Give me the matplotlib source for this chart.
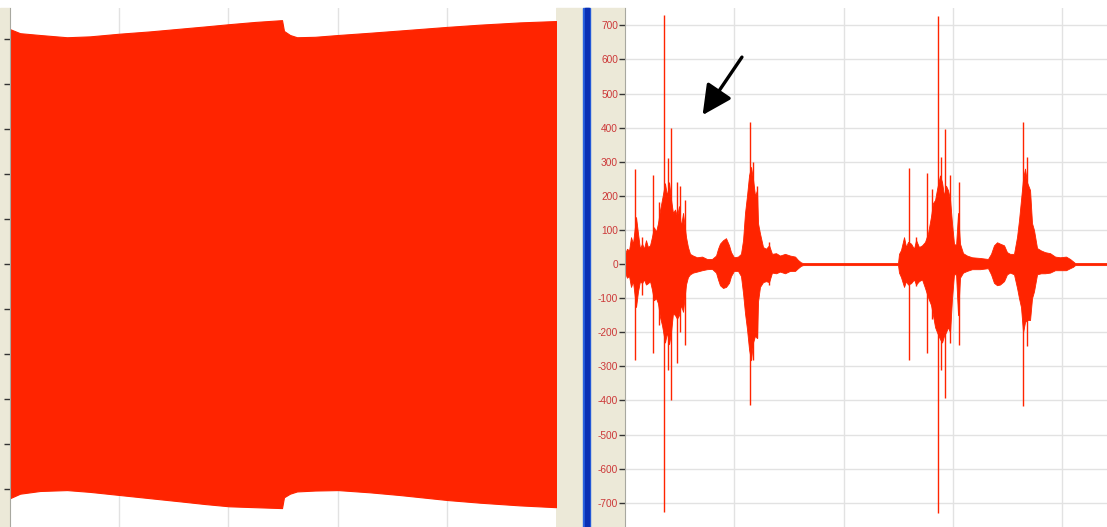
import matplotlib.pyplot as plt
from matplotlib.patches import Rectangle

plt.rcParams['font.family'] = ['Liberation Sans', 'DejaVu Sans']
plt.rcParams['axes.unicode_minus'] = False

RED = '#FF2400'
BEIGE = '#ECE9D8'
GRID = '#E2E2E2'

# left view: whole recording (seconds), envelope of the clipped signal
left_t = [0.0, 0.092, 0.275, 0.522, 0.733, 1.007, 1.282, 1.557, 1.786, 2.005, 2.244, 2.491,
          2.509, 2.564, 2.628, 2.793, 3.004, 3.297, 3.571, 4.002, 4.304, 4.670, 5.0]
left_upper = [5.22, 5.13, 5.09, 5.04, 5.06, 5.12, 5.17, 5.23, 5.28, 5.33, 5.38, 5.42,
              5.18, 5.09, 5.04, 5.05, 5.09, 5.14, 5.19, 5.27, 5.32, 5.37, 5.40]
left_lower = [-5.20, -5.10, -5.04, -5.02, -5.06, -5.13, -5.20, -5.27, -5.33, -5.38, -5.40, -5.42,
              -5.18, -5.10, -5.05, -5.03, -5.02, -5.07, -5.13, -5.24, -5.30, -5.36, -5.40]

# right view: zoomed speech waveform (ms), amplitude envelope
env_ms = [0, 1.8, 3.7, 5.5, 7.3, 10.1, 11.9, 13.7, 15.6, 17.4, 19.2, 21.0, 22.9, 24.7, 26.5,
          28.4, 30.2, 32.0, 33.9, 36.6, 38.4, 40.3, 42.1, 43.9, 45.8, 47.6, 49.4, 51.2, 53.1,
          55.8, 57.6, 59.5, 62.2, 65.9, 70.5, 75.0, 79.6, 83.3, 85.1, 86.9, 89.7, 92.4, 95.2,
          97.0, 99.7, 103.4, 106.1, 108.0, 109.8, 111.6, 113.5, 115.3, 117.1, 119.0, 120.8,
          121.7, 123.5, 126.3, 129.0, 131.8, 134.5, 138.2, 141.8, 146.4, 151.0, 155.6, 158.3,
          161.0, 162.9,
          249.8, 250.7, 252.5, 255.3, 257.1, 258.9, 261.7, 264.4, 266.3, 269.0, 271.8, 274.5,
          277.2, 280.0, 281.8, 283.7, 285.5, 288.2, 290.1, 291.9, 293.7, 295.5, 297.4, 299.2,
          301.0, 302.9, 304.7, 306.5, 309.3, 312.9, 317.5, 324.8, 332.1, 334.9, 337.6, 340.4,
          343.1, 346.8, 349.5, 352.3, 355.9, 358.7, 360.5, 362.3, 364.2, 366.0, 367.8, 370.6,
          372.4, 374.2, 377.0, 380.6, 384.3, 388.9, 393.5, 398.0, 403.5, 407.2, 409.9, 411.8,
          441.0]
env_upper = [30, 45, 40, 79, 60, 138, 90, 45, 60, 45, 70, 50, 55, 80, 108,
             95, 120, 158, 190, 237, 200, 240, 190, 150, 160, 140, 170, 110, 150,
             80, 50, 30, 25, 20, 22, 15, 15, 25, 45, 60, 70, 76, 55,
             35, 20, 22, 30, 70, 150, 200, 260, 285, 250, 200, 217,
             120, 90, 50, 45, 55, 30, 32, 25, 30, 25, 22, 12,
             5, 3,
             3, 30, 41, 79, 50, 65, 60, 45, 70, 50, 55, 65,
             90, 140, 179, 188, 220, 260, 240, 200, 230, 217, 190, 120,
             60, 55, 150, 60, 32, 25, 20, 18, 15, 30, 55, 64,
             60, 55, 35, 30, 30, 80, 129, 188, 250, 280, 240, 217,
             120, 100, 47, 40, 35, 32, 22, 20, 22, 15, 8, 3,
             3]
env_lower = [-25, -40, -35, -67, -50, -126, -80, -50, -56, -45, -60, -56, -50, -75, -106,
             -100, -115, -155, -180, -230, -200, -235, -200, -144, -150, -160, -150, -120, -140,
             -60, -38, -30, -25, -22, -18, -15, -14, -25, -45, -62, -70, -67, -55,
             -35, -20, -20, -35, -85, -144, -190, -250, -282, -230, -210, -217,
             -110, -67, -53, -50, -53, -25, -27, -22, -27, -20, -20, -12,
             -5, -3,
             -3, -25, -38, -67, -50, -60, -56, -45, -60, -50, -45, -70,
             -97, -120, -150, -185, -200, -220, -230, -210, -200, -185, -200, -100,
             -30, -30, -150, -40, -25, -20, -15, -15, -12, -30, -55, -62,
             -60, -50, -30, -25, -30, -70, -100, -126, -200, -170, -164, -164,
             -100, -80, -30, -27, -27, -25, -18, -18, -18, -12, -8, -3,
             -3]

# isolated peaks standing out of the envelope
spike_ms = [9.2, 15.6, 25.6, 31.1, 35.7, 39.3, 42.1, 47.6, 50.3, 54.9,
            114.4, 117.1, 120.8, 131.8,
            259.9, 266.3, 276.3, 281.0, 286.4, 289.1, 292.8, 297.4, 305.6, 364.2, 367.8]
spike_top = [280, 80, 261, 182, 730, 311, 400, 240, 230, 188,
             416, 300, 230, 65,
             281, 80, 266, 220, 728, 314, 395, 260, 240, 416, 314]
spike_bottom = [-280, -90, -261, -179, -727, -311, -399, -290, -200, -237,
                -414, -282, -217, -60,
                -281, -65, -261, -160, -730, -311, -393, -230, -237, -415, -240]

yticks = list(range(-700, 701, 100))

W, H = 1107, 527
fig = plt.figure(figsize=(W / 100, H / 100), dpi=100, facecolor='white')

# window chrome: beige strips and the blue splitter bar
fig.add_artist(Rectangle((0, 0), 10 / W, 519 / H, transform=fig.transFigure, color=BEIGE, zorder=0))
fig.add_artist(Rectangle((556 / W, 0), 69 / W, 519 / H, transform=fig.transFigure, color=BEIGE, zorder=0))
fig.add_artist(Rectangle((583 / W, 0), 7 / W, 519 / H, transform=fig.transFigure, color='#2A62E0', zorder=1))
fig.add_artist(Rectangle((585 / W, 0), 4 / W, 519 / H, transform=fig.transFigure, color='#0A2FB4', zorder=1))

ax1 = fig.add_axes([10 / W, 0, 546 / W, 519 / H])
ax2 = fig.add_axes([625 / W, 0, 482 / W, 519 / H])

for ax in (ax1, ax2):
    ax.set_facecolor('white')
    ax.set_axisbelow(True)
    ax.grid(True, color=GRID, lw=1)
    for s in ('top', 'right', 'bottom'):
        ax.spines[s].set_visible(False)
    ax.spines['left'].set_color('#A8A8A0')
    ax.tick_params(axis='x', bottom=False, labelbottom=False)
    ax.tick_params(axis='y', direction='out', length=4, width=1, color='#333333')

# left panel
ax1.fill_between(left_t, left_upper, left_lower, color=RED, lw=0.8)
ax1.set_xlim(0, 5)
ax1.set_ylim(-5.84, 5.69)
ax1.set_xticks([1, 2, 3, 4])
ax1.set_yticks(range(-5, 6))
ax1.set_yticklabels([])

# right panel
ax2.fill_between(env_ms, env_upper, env_lower, color=RED, lw=0.6)
ax2.vlines(spike_ms, spike_bottom, spike_top, color=RED, lw=1.0)
ax2.set_xlim(0, 441)
ax2.set_ylim(-771, 751)
ax2.set_xticks([100, 200, 300, 400])
ax2.set_yticks(yticks)
ax2.set_yticklabels([str(v) for v in yticks], color='#CC3838', fontsize=7.3)
ax2.tick_params(axis='y', pad=1)

ax2.annotate('', xy=(71, 437), xytext=(107, 607),
             arrowprops=dict(arrowstyle='-|>,head_length=0.9,head_width=0.45',
                             mutation_scale=20, lw=2.4, color='black',
                             shrinkA=0, shrinkB=0))

fig.savefig('out.png', dpi=100, facecolor='white')
